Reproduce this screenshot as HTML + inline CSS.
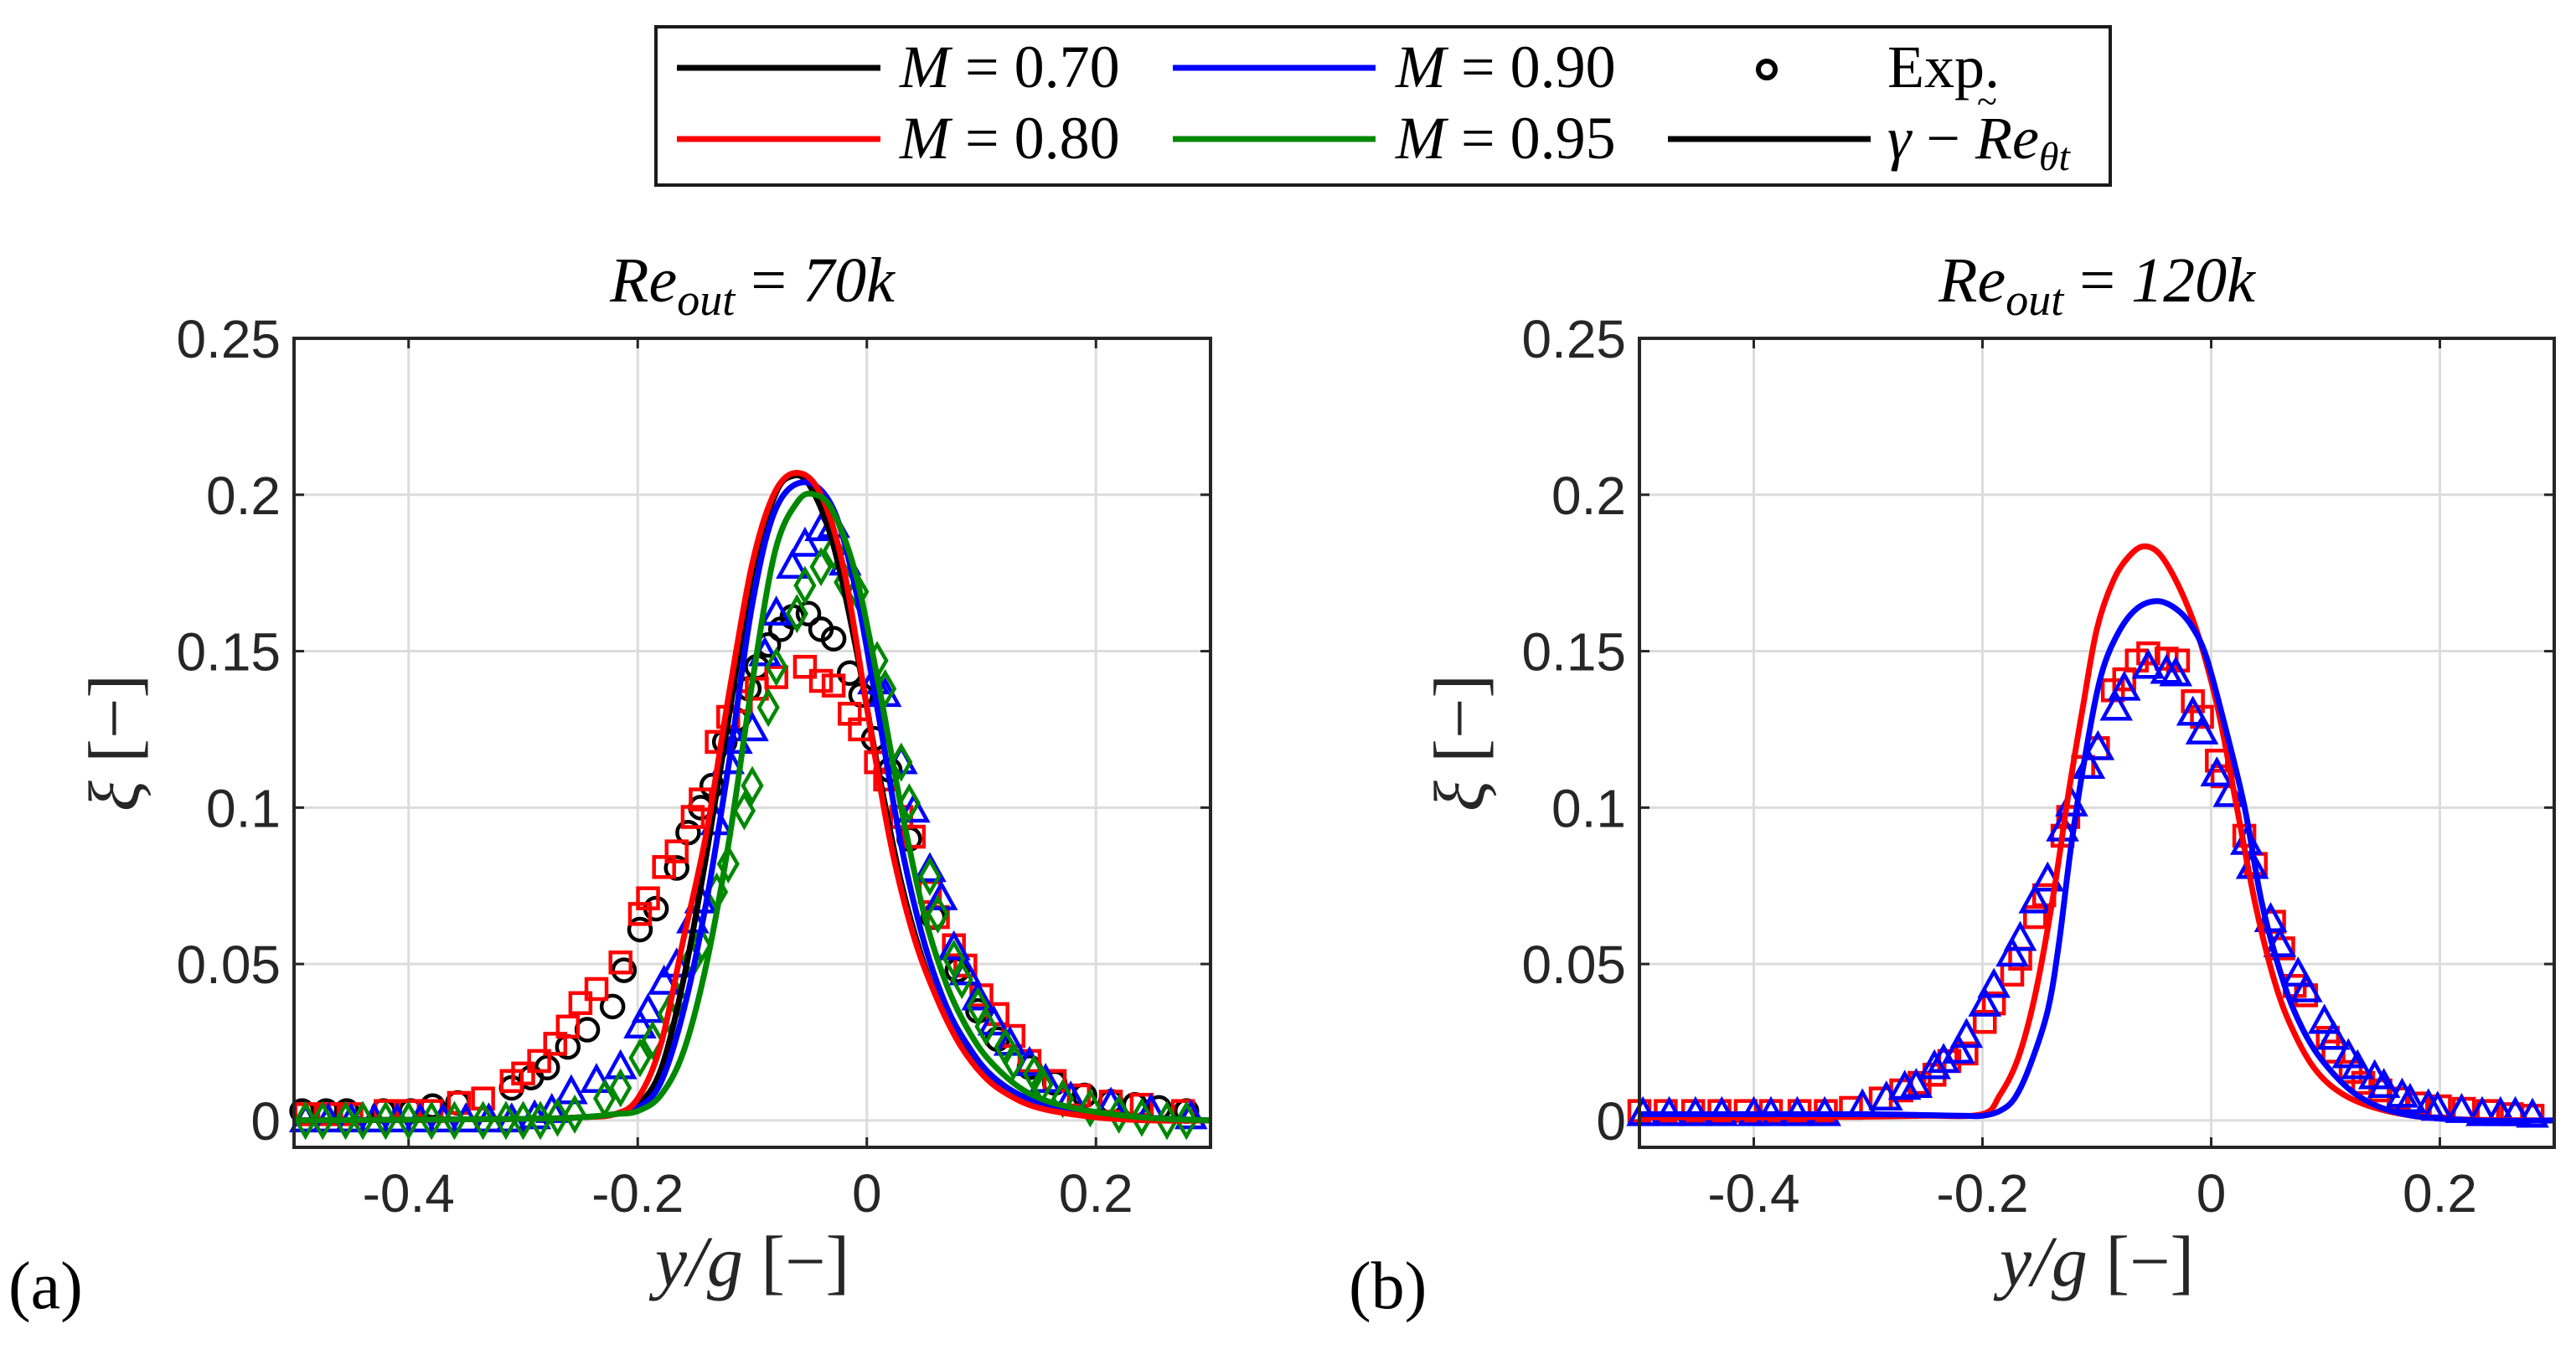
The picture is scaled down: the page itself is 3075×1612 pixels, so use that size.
<!DOCTYPE html>
<html><head><meta charset="utf-8">
<style>
html,body{margin:0;padding:0;background:#fff;}
svg{display:block;}
.tick{font-family:"Liberation Sans",sans-serif;font-size:64px;fill:#262626;}
.serif{font-family:"Liberation Serif",serif;}
</style></head>
<body>
<svg id="fig" width="3075" height="1612" viewBox="0 0 3075 1612" xmlns="http://www.w3.org/2000/svg">
<g id="legend">
 <rect x="783" y="32" width="1736" height="189" fill="#fff" stroke="#1a1a1a" stroke-width="4"/>
 <g>
  <line x1="808" y1="81" x2="1051" y2="81" stroke="#000" stroke-width="7"/>
  <text x="1074" y="104" class="serif" font-size="72" font-style="italic">M <tspan font-style="normal">= 0.70</tspan></text></g>
 <g>
  <line x1="808" y1="166" x2="1051" y2="166" stroke="#f00" stroke-width="7"/>
  <text x="1074" y="189" class="serif" font-size="72" font-style="italic">M <tspan font-style="normal">= 0.80</tspan></text></g>
 <g>
  <line x1="1400" y1="81" x2="1642" y2="81" stroke="#00f" stroke-width="7"/>
  <text x="1666" y="104" class="serif" font-size="72" font-style="italic">M <tspan font-style="normal">= 0.90</tspan></text></g>
 <g>
  <line x1="1400" y1="166" x2="1642" y2="166" stroke="#080" stroke-width="7"/>
  <text x="1666" y="189" class="serif" font-size="72" font-style="italic">M <tspan font-style="normal">= 0.95</tspan></text></g>
 <g>
  <circle cx="2109" cy="83" r="10" fill="none" stroke="#000" stroke-width="6"/>
  <text x="2253" y="104" class="serif" font-size="72">Exp.</text></g>
 <g>
  <line x1="1991" y1="166" x2="2233" y2="166" stroke="#000" stroke-width="7"/>
  <text x="2253" y="189" class="serif" font-size="72" font-style="italic">γ <tspan font-style="normal">−</tspan> Re<tspan font-size="48" dy="14">θt</tspan></text>
  <text x="2360" y="136" class="serif" font-size="44">~</text></g>
</g>
<g id="panelA"></g>
<g id="panelB"></g>
</svg>
<script>
// ---------- Panel (a): Re_out = 70k ----------
const a_m070_x=[-0.5,-0.3,-0.25,-0.22,-0.2,-0.18,-0.16,-0.14,-0.12,-0.1,-0.08,-0.065,-0.05,-0.03,-0.01,0.01,0.03,0.05,0.07,0.09,0.11,0.14,0.18,0.24,0.3];
const a_m070_y=[0.0,0.0005,0.001,0.002,0.005,0.016,0.045,0.085,0.13,0.175,0.2,0.206,0.203,0.185,0.152,0.112,0.076,0.05,0.032,0.02,0.013,0.007,0.003,0.001,0.0];
const a_m080_x=[-0.5,-0.3,-0.25,-0.22,-0.2,-0.18,-0.16,-0.14,-0.12,-0.1,-0.08,-0.06,-0.04,-0.02,0.0,0.02,0.04,0.06,0.08,0.1,0.12,0.15,0.2,0.25,0.3];
const a_m080_y=[0.0,0.0005,0.001,0.002,0.007,0.024,0.058,0.092,0.137,0.178,0.201,0.207,0.2,0.176,0.132,0.09,0.06,0.04,0.025,0.015,0.009,0.004,0.001,0.0,0.0];
const a_m090_x=[-0.5,-0.3,-0.25,-0.22,-0.2,-0.18,-0.16,-0.14,-0.12,-0.1,-0.08,-0.055,-0.03,-0.01,0.01,0.03,0.05,0.07,0.09,0.11,0.14,0.18,0.24,0.3];
const a_m090_y=[0.0,0.0005,0.001,0.002,0.004,0.012,0.035,0.07,0.115,0.165,0.195,0.204,0.196,0.17,0.13,0.088,0.057,0.036,0.023,0.014,0.007,0.003,0.001,0.0];
const a_m095_x=[-0.5,-0.3,-0.25,-0.22,-0.2,-0.18,-0.16,-0.14,-0.12,-0.1,-0.08,-0.06,-0.045,-0.03,-0.01,0.01,0.03,0.05,0.07,0.09,0.11,0.14,0.18,0.24,0.3];
const a_m095_y=[0.0,0.0005,0.001,0.002,0.003,0.008,0.022,0.05,0.09,0.14,0.182,0.198,0.2,0.195,0.175,0.14,0.1,0.066,0.043,0.028,0.018,0.009,0.004,0.001,0.0];
const a_exp070_x=[-0.493,-0.472,-0.454,-0.422,-0.398,-0.379,-0.357,-0.31,-0.293,-0.279,-0.261,-0.244,-0.222,-0.212,-0.198,-0.184,-0.166,-0.156,-0.145,-0.135,-0.124,-0.114,-0.103,-0.096,-0.086,-0.075,-0.065,-0.051,-0.04,-0.029,-0.015,-0.005,0.006,0.02,0.037,0.058,0.079,0.097,0.114,0.142,0.164,0.19,0.213,0.234,0.255,0.279];
const a_exp070_y=[0.003,0.003,0.003,0.003,0.003,0.0046,0.0056,0.0104,0.0137,0.0169,0.0235,0.029,0.0364,0.048,0.061,0.0677,0.0807,0.092,0.1,0.107,0.121,0.128,0.138,0.145,0.152,0.157,0.161,0.162,0.157,0.154,0.143,0.136,0.122,0.112,0.09,0.065,0.048,0.035,0.026,0.017,0.012,0.008,0.006,0.005,0.004,0.003];
const a_exp080_x=[-0.49,-0.47,-0.45,-0.42,-0.4,-0.38,-0.356,-0.335,-0.31,-0.3,-0.286,-0.272,-0.261,-0.25,-0.236,-0.215,-0.198,-0.191,-0.177,-0.166,-0.152,-0.145,-0.131,-0.121,-0.11,-0.096,-0.079,-0.054,-0.04,-0.029,-0.015,-0.006,0.008,0.016,0.03,0.041,0.055,0.062,0.076,0.086,0.1,0.114,0.128,0.142,0.164,0.185,0.213,0.24,0.276];
const a_exp080_y=[0.002,0.002,0.002,0.003,0.003,0.003,0.0056,0.007,0.0126,0.015,0.019,0.0245,0.03,0.0375,0.042,0.0505,0.066,0.071,0.081,0.086,0.097,0.1026,0.121,0.129,0.134,0.138,0.1417,0.145,0.1405,0.139,0.13,0.125,0.1145,0.109,0.097,0.0907,0.073,0.065,0.056,0.0495,0.04,0.034,0.027,0.019,0.0126,0.008,0.006,0.005,0.003];
const a_exp090_x=[-0.49,-0.47,-0.45,-0.43,-0.41,-0.39,-0.37,-0.35,-0.33,-0.31,-0.29,-0.275,-0.258,-0.236,-0.215,-0.198,-0.191,-0.177,-0.166,-0.152,-0.145,-0.131,-0.121,-0.114,-0.1,-0.089,-0.079,-0.065,-0.054,-0.04,-0.029,-0.019,0.006,0.016,0.03,0.041,0.055,0.065,0.076,0.086,0.097,0.111,0.125,0.142,0.156,0.178,0.213,0.248,0.283];
const a_exp090_y=[0.0,0.0,0.0,0.0,0.0,0.0,0.0,0.0,0.0,0.0,0.001,0.003,0.009,0.0126,0.017,0.03,0.035,0.044,0.0495,0.0636,0.07,0.095,0.1145,0.121,0.125,0.149,0.162,0.177,0.184,0.189,0.19,0.178,0.14,0.136,0.1145,0.099,0.08,0.071,0.055,0.047,0.039,0.031,0.0245,0.018,0.0126,0.007,0.005,0.003,0.001];
const a_exp095_x=[-0.49,-0.475,-0.455,-0.44,-0.42,-0.4,-0.38,-0.36,-0.335,-0.315,-0.3,-0.285,-0.27,-0.255,-0.229,-0.215,-0.198,-0.187,-0.173,-0.166,-0.152,-0.145,-0.131,-0.121,-0.107,-0.1,-0.086,-0.079,-0.061,-0.054,-0.04,-0.029,-0.019,-0.008,0.009,0.016,0.03,0.037,0.055,0.062,0.076,0.083,0.097,0.104,0.121,0.128,0.146,0.153,0.171,0.195,0.22,0.24,0.262,0.279];
const a_exp095_y=[0.0,0.0,0.0,0.0,0.0,0.0,0.0,0.0,0.0,0.0,0.0,0.0,0.001,0.002,0.007,0.0104,0.02,0.0256,0.034,0.0386,0.0516,0.056,0.073,0.082,0.099,0.107,0.132,0.145,0.162,0.171,0.177,0.182,0.172,0.169,0.147,0.138,0.1145,0.1015,0.078,0.066,0.0516,0.045,0.0364,0.03,0.0234,0.019,0.0148,0.0115,0.007,0.004,0.002,0.001,0.0,0.0];
// ---------- Panel (b): Re_out = 120k ----------
const b_m080_x=[-0.5,-0.4,-0.3,-0.25,-0.2,-0.185,-0.169,-0.154,-0.138,-0.125,-0.112,-0.1,-0.085,-0.07,-0.058,-0.045,-0.03,-0.016,-0.004,0.008,0.023,0.039,0.055,0.07,0.091,0.117,0.154,0.206,0.3];
const b_m080_y=[0.001,0.001,0.0012,0.0015,0.002,0.008,0.0197,0.04,0.072,0.104,0.1325,0.157,0.173,0.181,0.1835,0.181,0.172,0.16,0.146,0.128,0.099,0.0685,0.045,0.03,0.0163,0.008,0.003,0.0005,0.0];
const b_m090_x=[-0.5,-0.4,-0.3,-0.22,-0.2,-0.185,-0.172,-0.159,-0.143,-0.133,-0.122,-0.109,-0.096,-0.081,-0.065,-0.047,-0.031,-0.018,-0.005,0.01,0.029,0.044,0.06,0.075,0.096,0.128,0.169,0.232,0.3];
const b_m090_y=[0.002,0.002,0.002,0.0015,0.0015,0.003,0.007,0.017,0.035,0.057,0.089,0.119,0.1426,0.156,0.1636,0.166,0.1636,0.1586,0.149,0.129,0.1005,0.07,0.048,0.033,0.0197,0.008,0.002,0.0,0.0];
const b_exp080_x=[-0.5,-0.477,-0.453,-0.43,-0.407,-0.385,-0.36,-0.337,-0.315,-0.289,-0.271,-0.255,-0.242,-0.229,-0.214,-0.198,-0.19,-0.174,-0.167,-0.154,-0.146,-0.13,-0.125,-0.112,-0.099,-0.086,-0.076,-0.065,-0.055,-0.039,-0.029,-0.016,-0.008,0.005,0.01,0.029,0.039,0.055,0.063,0.073,0.083,0.102,0.107,0.122,0.133,0.148,0.164,0.18,0.2,0.221,0.242,0.263,0.281];
const b_exp080_y=[0.003,0.003,0.003,0.003,0.003,0.003,0.003,0.003,0.004,0.007,0.0096,0.012,0.0146,0.019,0.0214,0.0315,0.0374,0.0466,0.0517,0.065,0.072,0.091,0.097,0.113,0.119,0.1375,0.141,0.147,0.1493,0.1476,0.147,0.134,0.129,0.115,0.11,0.091,0.082,0.0635,0.055,0.043,0.04,0.0264,0.022,0.0155,0.012,0.0096,0.007,0.0054,0.0045,0.0037,0.003,0.002,0.0015];
const b_exp090_x=[-0.497,-0.474,-0.451,-0.428,-0.4,-0.385,-0.362,-0.338,-0.305,-0.284,-0.268,-0.258,-0.242,-0.234,-0.221,-0.214,-0.198,-0.19,-0.174,-0.167,-0.154,-0.143,-0.13,-0.122,-0.107,-0.099,-0.083,-0.076,-0.055,-0.039,-0.031,-0.016,-0.008,0.005,0.016,0.031,0.036,0.052,0.06,0.076,0.083,0.099,0.107,0.12,0.128,0.143,0.151,0.167,0.174,0.19,0.198,0.219,0.237,0.253,0.266,0.281];
const b_exp090_y=[0.002,0.002,0.002,0.002,0.002,0.002,0.002,0.002,0.0045,0.007,0.0104,0.011,0.017,0.019,0.022,0.027,0.037,0.043,0.053,0.058,0.07,0.077,0.093,0.101,0.113,0.119,0.1316,0.138,0.145,0.1434,0.1426,0.13,0.124,0.1106,0.104,0.0887,0.081,0.064,0.056,0.0466,0.0416,0.0315,0.0264,0.0205,0.017,0.0138,0.011,0.0079,0.0062,0.0045,0.0037,0.003,0.002,0.002,0.002,0.0015];
const xTicks=[-0.4,-0.2,0,0.2];
const xTickLabels=["-0.4","-0.2","0","0.2"];
const yTicks=[0,0.05,0.1,0.15,0.2,0.25];
const yTickLabels=["0","0.05","0.1","0.15","0.2","0.25"];

const NS="http://www.w3.org/2000/svg";
function mk(tag,attrs,parent){const e=document.createElementNS(NS,tag);for(const k in attrs)e.setAttribute(k,attrs[k]);parent.appendChild(e);return e;}
const X0=-0.5,X1=0.3,Y0=-0.0086,Y1=0.25,TOP=404,BOT=1370;
function makeAxes(g,left,right){
  const sx=v=>left+(v-X0)/(X1-X0)*(right-left);
  const sy=v=>BOT-(v-Y0)/(Y1-Y0)*(BOT-TOP);
  return {sx,sy,left,right,g};
}
function catmull(pts){
  let d="M"+pts[0][0].toFixed(1)+","+pts[0][1].toFixed(1);
  for(let i=0;i<pts.length-1;i++){
    const p0=pts[Math.max(0,i-1)],p1=pts[i],p2=pts[i+1],p3=pts[Math.min(pts.length-1,i+2)];
    const c1=[p1[0]+(p2[0]-p0[0])/6,p1[1]+(p2[1]-p0[1])/6];
    const c2=[p2[0]-(p3[0]-p1[0])/6,p2[1]-(p3[1]-p1[1])/6];
    d+="C"+c1.map(v=>v.toFixed(1))+" "+c2.map(v=>v.toFixed(1))+" "+p2[0].toFixed(1)+","+p2[1].toFixed(1);
  }
  return d;
}
function drawFrame(ax,title,letter,letterX){
  const g=ax.g,sx=ax.sx,sy=ax.sy;
  for(let i=0;i<xTicks.length;i++){
    const gl=mk('line',{x1:sx(xTicks[i]),x2:sx(xTicks[i]),y1:TOP,y2:BOT,stroke:'#dcdcdc','stroke-width':3},g);
    
    
    const t=mk('text',{x:sx(xTicks[i]),y:1447,'text-anchor':'middle',class:'tick'},g);
    t.textContent=xTickLabels[i];
    
    
    mk('line',{x1:sx(xTicks[i]),x2:sx(xTicks[i]),y1:BOT,y2:BOT-12,stroke:'#262626','stroke-width':3},g);
    mk('line',{x1:sx(xTicks[i]),x2:sx(xTicks[i]),y1:TOP,y2:TOP+12,stroke:'#262626','stroke-width':3},g);
  }
  for(let i=0;i<yTicks.length;i++){
    const y=sy(yTicks[i]);
    const gl=mk('line',{x1:ax.left,x2:ax.right,y1:y,y2:y,stroke:'#dcdcdc','stroke-width':3},g);
    
    
    const t=mk('text',{x:ax.left-16,y:y+23,'text-anchor':'end',class:'tick'},g);
    t.textContent=yTickLabels[i];
    
    
    mk('line',{x1:ax.left,x2:ax.left+12,y1:y,y2:y,stroke:'#262626','stroke-width':3},g);
    mk('line',{x1:ax.right,x2:ax.right-12,y1:y,y2:y,stroke:'#262626','stroke-width':3},g);
  }
  const cx=(ax.left+ax.right)/2;
  const tt=mk('text',{x:cx,y:360,'text-anchor':'middle',class:'serif','font-size':76,'font-style':'italic'},g);
  tt.innerHTML='Re<tspan font-size="54" dy="16">out</tspan><tspan dy="-16" font-style="normal"> = </tspan>'+title;
  
  
  const xl=mk('text',{x:cx,y:1535,'text-anchor':'middle',class:'serif','font-size':86,'font-style':'italic',fill:'#262626'},g);
  xl.innerHTML='y/g <tspan font-style="normal">[−]</tspan>';
  
  
  const yl=mk('text',{x:0,y:0,'text-anchor':'middle',class:'serif','font-size':86,'font-style':'italic',fill:'#262626',transform:'translate('+(ax.left-186)+',887) rotate(-90)'},g);
  yl.innerHTML='ξ <tspan font-style="normal">[−]</tspan>';
  
  
  const lt=mk('text',{x:letterX,y:1562,class:'serif','font-size':80},g);
  lt.textContent=letter;
  
  
}
function drawBox(ax){
  const b=mk('rect',{x:ax.left,y:TOP,width:ax.right-ax.left,height:BOT-TOP,fill:'none',stroke:'#262626','stroke-width':4},ax.g);
  
  
}
function drawLine(ax,xs,ys,color,name){
  const pts=xs.map((x,i)=>[ax.sx(x),ax.sy(ys[i])]);
  const p=mk('path',{d:catmull(pts),fill:'none',stroke:color,'stroke-width':7,'stroke-linejoin':'round'},ax.g);
  
  
}
function drawMarkers(ax,xs,ys,color,shape,name){
  const grp=mk('g',{},ax.g);
  
  
  for(let i=0;i<xs.length;i++){
    const x=ax.sx(xs[i]),y=ax.sy(ys[i]);let m;
    const st={fill:'none',stroke:color,'stroke-width':4.5};
    if(shape==='circle'){m=mk('circle',Object.assign({cx:x,cy:y,r:13},st),grp);}
    else if(shape==='square'){m=mk('rect',Object.assign({x:x-12,y:y-12,width:24,height:24},st),grp);}
    else if(shape==='triangle'){m=mk('polygon',Object.assign({points:(x)+','+(y-17)+' '+(x-16)+','+(y+12)+' '+(x+16)+','+(y+12)},st),grp);}
    else {m=mk('polygon',Object.assign({points:(x)+','+(y-19)+' '+(x-11)+','+y+' '+x+','+(y+19)+' '+(x+11)+','+y},st),grp);}
    
    
  }
}
const A=makeAxes(document.getElementById('panelA'),351,1445);
drawFrame(A,'70<tspan font-style="italic">k</tspan>','(a)',10);
drawMarkers(A,a_exp070_x,a_exp070_y,'#000','circle','exp-m070');
drawMarkers(A,a_exp080_x,a_exp080_y,'#f00','square','exp-m080');
drawMarkers(A,a_exp090_x,a_exp090_y,'#00f','triangle','exp-m090');
drawMarkers(A,a_exp095_x,a_exp095_y,'#080','diamond','exp-m095');
drawLine(A,a_m070_x,a_m070_y,'#000','line-m070');
drawLine(A,a_m090_x,a_m090_y,'#00f','line-m090');
drawLine(A,a_m080_x,a_m080_y,'#f00','line-m080');
drawLine(A,a_m095_x,a_m095_y,'#080','line-m095');
drawBox(A);
const B=makeAxes(document.getElementById('panelB'),1957,3049);
drawFrame(B,'120<tspan font-style="italic">k</tspan>','(b)',1610);
drawMarkers(B,b_exp080_x,b_exp080_y,'#f00','square','exp-m080-b');
drawMarkers(B,b_exp090_x,b_exp090_y,'#00f','triangle','exp-m090-b');
drawLine(B,b_m080_x,b_m080_y,'#f00','line-m080-b');
drawLine(B,b_m090_x,b_m090_y,'#00f','line-m090-b');
drawBox(B);
</script>
</body></html>
